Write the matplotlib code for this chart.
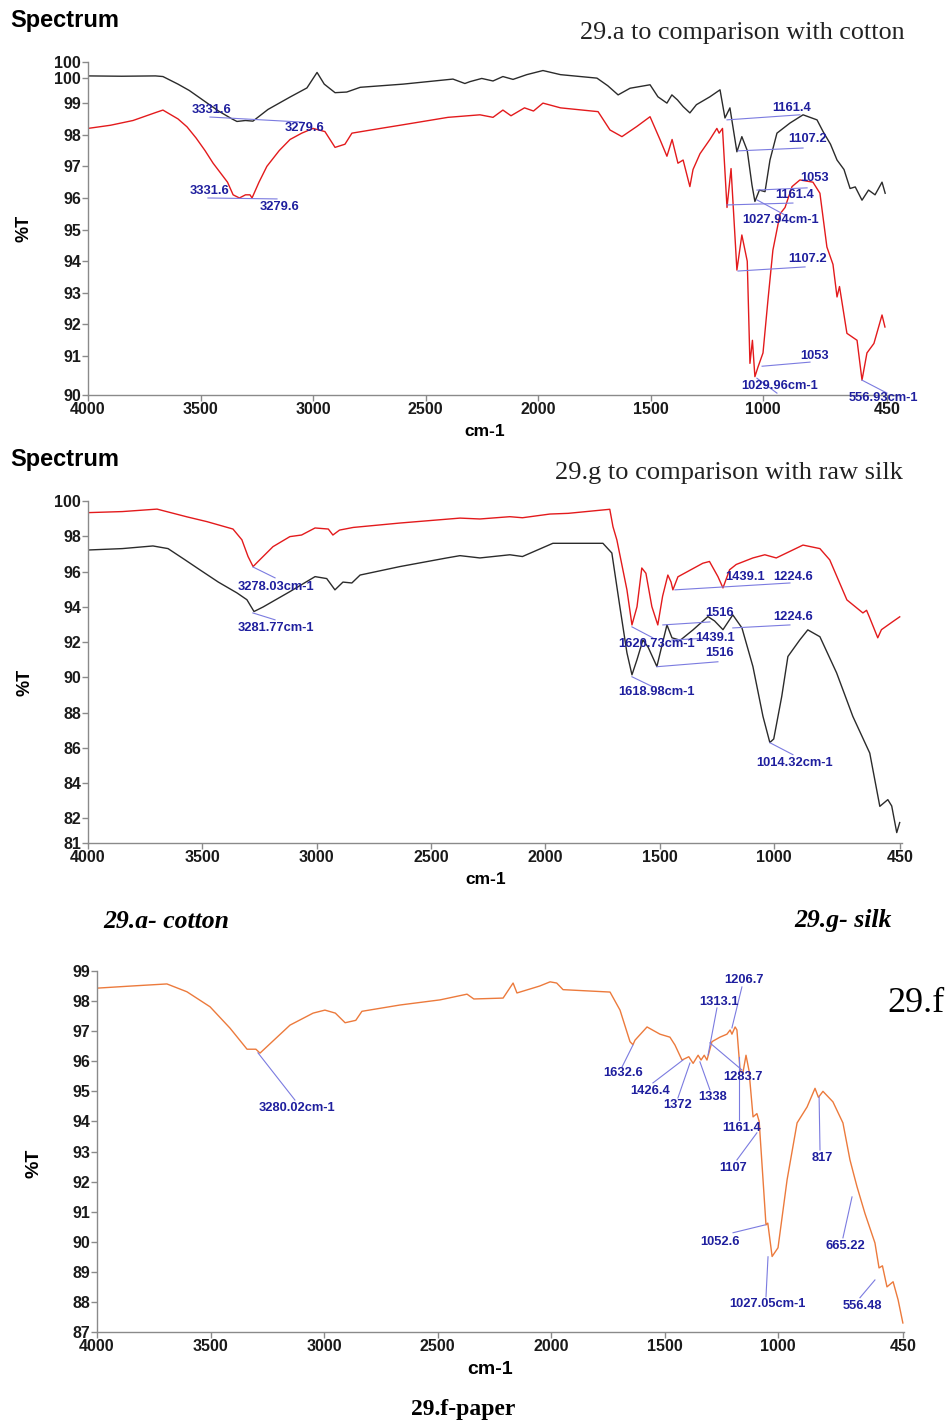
import matplotlib
matplotlib.use("Agg")
import matplotlib.pyplot as plt

# ---------------- 29.a : comparación con algodón ----------------
a_black_wn = [4000, 3850, 3700, 3667, 3600, 3550, 3500, 3460, 3420, 3360, 3338, 3300, 3267, 3200, 3100,
              3027, 2982, 2950, 2902, 2850, 2790, 2600, 2378, 2325, 2302, 2250, 2200, 2156, 2111, 2050,
              1978, 1900, 1738, 1690, 1644, 1591, 1502, 1467, 1427, 1405, 1380, 1355, 1325,
              1296, 1236, 1191, 1169, 1147, 1116, 1094, 1070, 1049, 1036, 1016, 991, 969,
              938, 880, 822, 760, 733, 700, 671, 640, 613, 590, 560, 531, 502, 471, 457]
a_black_t = [99.86, 99.85, 99.86, 99.84, 99.6, 99.4, 99.15, 98.95, 98.75, 98.5, 98.42, 98.45, 98.43, 98.8, 99.2,
             99.48, 99.97, 99.6, 99.33, 99.35, 99.5, 99.6, 99.76, 99.62, 99.68, 99.78, 99.7, 99.84, 99.75, 99.9,
             100.03, 99.9, 99.79, 99.55, 99.26, 99.47, 99.58, 99.2, 99.0, 99.26, 99.1, 98.89, 98.69,
             98.95, 99.2, 99.42, 98.53, 98.85, 97.46, 97.94, 97.5, 96.41, 95.89, 96.25, 96.2, 97.2,
             98.05, 98.37, 98.63, 98.47, 98.1, 97.7, 97.2, 96.9, 96.3, 96.35, 95.93, 96.25, 96.1, 96.5, 96.15]

a_red_wn = [4000, 3900, 3800, 3700, 3667, 3600, 3560, 3520, 3480, 3444, 3380, 3355, 3327, 3300, 3280, 3271,
            3240, 3205, 3150, 3102, 3050, 3000, 2947, 2902, 2858, 2827, 2700, 2613, 2400, 2258, 2200, 2156,
            2120, 2060, 2020, 1978, 1900, 1733, 1680, 1627, 1561, 1502, 1458, 1427, 1404, 1378, 1355,
            1325, 1311, 1280, 1236, 1205, 1195, 1180, 1160, 1142, 1116, 1094, 1070, 1058, 1047,
            1036, 1022, 1000, 978, 956, 924, 902, 871, 836, 778, 747, 716, 689, 671, 660, 627,
            582, 560, 538, 507, 471, 458]
a_red_t = [98.2, 98.3, 98.45, 98.7, 98.78, 98.5, 98.25, 97.9, 97.5, 97.1, 96.5, 96.1, 96.0, 96.1, 96.1, 96.0,
           96.5, 97.0, 97.5, 97.85, 98.05, 98.2, 98.1, 97.6, 97.7, 98.05, 98.2, 98.3, 98.55, 98.63, 98.55, 98.78,
           98.6, 98.85, 98.75, 99.0, 98.85, 98.73, 98.15, 97.94, 98.26, 98.57, 97.85, 97.32, 97.85, 97.1, 97.2,
           96.36, 96.9, 97.4, 97.85, 98.2, 98.05, 98.2, 95.7, 96.93, 93.72, 94.83, 94.0, 90.77, 91.5,
           90.35, 90.66, 91.1, 92.77, 94.35, 95.5, 95.7, 96.36, 96.57, 96.5, 96.15, 94.45, 93.9, 92.87, 93.2, 91.72,
           91.5, 90.24, 91.1, 91.4, 92.3, 91.92]

# ---------------- 29.g : comparación con seda cruda ----------------
g_red_wn = [4000, 3850, 3698, 3567, 3480, 3366, 3327, 3300, 3278, 3256, 3191, 3117, 3066, 3007,
            2949, 2929, 2900, 2840, 2636, 2373, 2286, 2155, 2100, 1980, 1900, 1718, 1704, 1687,
            1643, 1621, 1599, 1578, 1560, 1534, 1508, 1487, 1464, 1450, 1442, 1420, 1311, 1282,
            1245, 1223, 1194, 1165, 1092, 1040, 990, 873, 799, 756, 681, 611, 595, 582, 546, 530, 480, 450]
g_red_t = [99.34, 99.4, 99.54, 99.1, 98.83, 98.41, 97.8, 96.85, 96.28, 96.57, 97.41, 97.98, 98.07, 98.47,
           98.41, 98.07, 98.35, 98.5, 98.75, 99.03, 98.98, 99.11, 99.05, 99.26, 99.3, 99.53, 98.54, 97.79,
           94.96, 92.97, 94.0, 96.2, 95.9, 94.01, 92.97, 94.6, 95.8, 95.4, 94.96, 95.7, 96.47, 96.57,
           95.71, 95.07, 96.1, 96.4, 96.77, 96.95, 96.77, 97.5, 97.3, 96.66, 94.39, 93.65, 93.8, 93.4, 92.24, 92.7, 93.16, 93.43]

g_black_wn = [4000, 3850, 3716, 3650, 3580, 3510, 3430, 3349, 3305, 3274, 3234, 3117, 3007, 2956, 2920, 2885,
              2846, 2810, 2636, 2431, 2373, 2286, 2155, 2100, 1967, 1748, 1709, 1674, 1643, 1621,
              1599, 1573, 1550, 1512, 1490, 1468, 1446, 1410, 1354, 1289, 1260, 1223, 1180, 1140,
              1092, 1048, 1018, 1001, 966, 939, 887, 852, 799, 726, 655, 581, 537, 502, 485, 463, 450]
g_black_t = [97.22, 97.3, 97.45, 97.3, 96.7, 96.09, 95.4, 94.79, 94.4, 93.73, 93.99, 94.86, 95.71, 95.6, 94.96, 95.4,
             95.35, 95.8, 96.28, 96.77, 96.9, 96.77, 96.95, 96.85, 97.6, 97.6, 97.05, 94.01, 91.39, 90.14,
             91.0, 92.12, 91.7, 90.61, 91.8, 92.97, 92.24, 92.1, 92.69, 93.44, 93.2, 92.7, 93.54, 92.8,
             90.61, 87.78, 86.3, 86.5, 88.91, 91.18, 92.12, 92.69, 92.3, 90.25, 87.78, 85.7, 82.68, 83.06, 82.7, 81.19, 81.76]

# ---------------- 29.f : papel ----------------
f_wn = [4000, 3850, 3692, 3604, 3502, 3414, 3339, 3300, 3282, 3238, 3150, 3048, 2996, 2950, 2907,
        2860, 2833, 2665, 2489, 2370, 2340, 2211, 2167, 2150, 2050, 2004, 1975, 1947, 1740, 1696,
        1652, 1639, 1630, 1577, 1520, 1476, 1454, 1423, 1393, 1374, 1352, 1339, 1325, 1313, 1291,
        1256, 1225, 1211, 1203, 1189, 1181, 1167, 1155, 1141, 1128, 1110, 1093, 1083, 1066, 1053,
        1045, 1026, 1000, 960, 916, 872, 837, 822, 802, 758, 714, 683, 665, 652, 617, 573, 555,
        540, 520, 493, 471, 450]
f_t = [98.43, 98.5, 98.57, 98.31, 97.81, 97.1, 96.4, 96.4, 96.27, 96.58, 97.2, 97.6, 97.7, 97.6, 97.28,
       97.36, 97.66, 97.87, 98.04, 98.23, 98.07, 98.1, 98.6, 98.27, 98.5, 98.64, 98.6, 98.38, 98.3, 97.7,
       96.65, 96.55, 96.7, 97.14, 96.9, 96.8, 96.54, 96.04, 96.15, 95.93, 96.2, 96.04, 96.2, 96.04, 96.65,
       96.8, 96.9, 97.04, 96.9, 97.14, 97.04, 95.7, 95.6, 96.2, 95.7, 94.15, 94.26, 94.0, 92.06, 90.56,
       90.62, 89.51, 89.8, 92.06, 93.95, 94.48, 95.1, 94.8, 95.0, 94.65, 93.95, 92.72, 92.2, 91.83, 90.94, 89.96, 89.13,
       89.2, 88.5, 88.67, 88.07, 87.3]

x_ticks = [4000, 3500, 3000, 2500, 2000, 1500, 1000, 450]

# etiquetas de picos: (texto, x_texto, y_texto, linea)
a_peaks = [
    ("3331.6", 3453, 98.78, (3458, 98.56, 3049, 98.40)),
    ("3279.6", 3036, 98.22, None),
    ("3331.6", 3458, 96.22, (3467, 96.0, 3160, 95.97)),
    ("3279.6", 3147, 95.72, None),
    ("1161.4", 871, 98.85, (1160, 98.47, 836, 98.63)),
    ("1107.2", 800, 97.87, (1111, 97.49, 822, 97.58)),
    ("1053", 769, 96.63, (1027, 96.25, 804, 96.32)),
    ("1161.4", 858, 96.09, (1160, 95.78, 867, 95.84)),
    ("1027.94cm-1", 924, 95.30, (1027, 95.94, 902, 95.46)),
    ("1107.2", 800, 94.07, (1111, 93.69, 813, 93.82)),
    ("1053", 769, 91.0, (1004, 90.68, 791, 90.81)),
    ("1029.96cm-1", 924, 90.05, (1027, 90.30, 938, 89.83)),
    ("556.93cm-1", 467, 89.67, (560, 90.24, 449, 89.83)),
]
g_peaks = [
    ("3278.03cm-1", 3178, 95.13, (3279, 96.26, 3182, 95.64)),
    ("3281.77cm-1", 3178, 92.80, (3279, 93.65, 3182, 93.26)),
    ("1439.1", 1127, 95.69, (1433, 94.96, 930, 95.35)),
    ("1224.6", 917, 95.69, None),
    ("1516", 1237, 93.65, (1486, 92.97, 1280, 93.14)),
    ("1224.6", 917, 93.43, (1180, 92.80, 930, 92.97)),
    ("1620.73cm-1", 1512, 91.90, (1621, 92.86, 1530, 92.24)),
    ("1439.1", 1258, 92.24, (1446, 92.12, 1320, 92.2)),
    ("1516", 1237, 91.39, (1512, 90.60, 1245, 90.88)),
    ("1618.98cm-1", 1512, 89.18, (1621, 90.03, 1530, 89.46)),
    ("1014.32cm-1", 909, 85.16, (1018, 86.29, 917, 85.61)),
]
f_peaks = [
    ("3280.02cm-1", 3119, 94.45, (3291, 96.28, 3128, 94.71)),
    ("1632.6", 1683, 95.61, (1639, 96.54, 1687, 95.81)),
    ("1426.4", 1564, 95.01, (1419, 96.04, 1551, 95.28)),
    ("1372", 1441, 94.55, (1388, 95.94, 1441, 94.78)),
    ("1338", 1286, 94.81, (1344, 95.98, 1300, 95.05)),
    ("1313.1", 1260, 97.97, (1308, 96.21, 1269, 97.77)),
    ("1206.7", 1150, 98.70, (1203, 97.11, 1159, 98.47)),
    ("1283.7", 1154, 95.48, (1300, 96.61, 1159, 95.71)),
    ("1161.4", 1159, 93.78, (1172, 96.14, 1172, 94.05)),
    ("1107", 1198, 92.46, (1093, 93.62, 1181, 92.72)),
    ("817", 806, 92.79, (819, 94.81, 815, 93.05)),
    ("1052.6", 1256, 90.0, (1057, 90.56, 1198, 90.30)),
    ("665.22", 705, 89.86, (674, 91.49, 714, 90.13)),
    ("1027.05cm-1", 1048, 87.94, (1044, 89.50, 1053, 88.17)),
    ("556.48", 630, 87.87, (573, 88.73, 639, 88.14)),
]

SANS = "Liberation Sans"
SERIF = "Liberation Serif"
GRIS = "#8a8a8a"
AZUL = "#1f1f9e"
AZUL_LINEA = "#7b7be0"

W, H = 951, 1423
fig = plt.figure(figsize=(W / 100, H / 100), dpi=100)


def eje(rect, xright, ylim, yticks, ylabels, ylab_pos, xlab_pos, xlab_size, ylab_size):
    ax = fig.add_axes([rect[0] / W, 1 - rect[3] / H, (rect[2] - rect[0]) / W, (rect[3] - rect[1]) / H])
    ax.set_xlim(4000, xright)
    ax.set_ylim(*ylim)
    for s in ["top", "right"]:
        ax.spines[s].set_visible(False)
    for s in ["left", "bottom"]:
        ax.spines[s].set_color(GRIS)
        ax.spines[s].set_linewidth(1.0)
    ax.set_xticks(x_ticks)
    ax.set_xticklabels([str(v) for v in x_ticks], fontfamily=SANS, fontweight="bold", fontsize=11.5)
    ax.set_yticks(yticks)
    ax.set_yticklabels(ylabels, fontfamily=SANS, fontweight="bold", fontsize=11.5)
    ax.tick_params(axis="both", colors=GRIS, length=4, width=1, labelcolor="#1a1a1a", pad=1)
    ax.set_ylabel("%T", fontfamily=SANS, fontweight="bold", fontsize=ylab_size)
    ax.yaxis.set_label_coords(*ylab_pos)
    ax.set_xlabel("cm-1", fontfamily=SANS, fontweight="bold", fontsize=xlab_size)
    ax.xaxis.set_label_coords(*xlab_pos)
    return ax


def picos(ax, lista):
    for texto, xt, yt, linea in lista:
        if linea is not None:
            ax.plot([linea[0], linea[2]], [linea[1], linea[3]], color=AZUL_LINEA, lw=0.8, clip_on=False)
        ax.text(xt, yt, texto, color=AZUL, fontfamily=SANS, fontweight="bold", fontsize=9.3,
                ha="center", va="center", clip_on=False)


# panel 29.a
ax1 = eje((88, 62, 898, 395), 400, (89.77, 100.3),
          [89.77, 91, 92, 93, 94, 95, 96, 97, 98, 99, 99.8, 100.3],
          ["90", "91", "92", "93", "94", "95", "96", "97", "98", "99", "100", "100"],
          (-0.068, 0.5), (0.49, -0.088), 12.5, 13)
ax1.plot(a_black_wn, a_black_t, color="#2b2b2b", lw=1.0)
ax1.plot(a_red_wn, a_red_t, color="#e31a1c", lw=1.0)
picos(ax1, a_peaks)

# panel 29.g
ax2 = eje((88, 501, 902, 843), 440, (80.6, 100),
          [80.6, 82, 84, 86, 88, 90, 92, 94, 96, 98, 100],
          ["81", "82", "84", "86", "88", "90", "92", "94", "96", "98", "100"],
          (-0.0675, 0.47), (0.488, -0.085), 12.5, 13)
ax2.plot(g_red_wn, g_red_t, color="#e31a1c", lw=1.0)
ax2.plot(g_black_wn, g_black_t, color="#2b2b2b", lw=1.0)
picos(ax2, g_peaks)

# panel 29.f
ax3 = eje((97, 971, 904, 1332), 445, (87, 99),
          list(range(87, 100)), [str(v) for v in range(87, 100)],
          (-0.068, 0.468), (0.487, -0.08), 14, 14)
ax3.plot(f_wn, f_t, color="#ec7a3c", lw=1.0)
picos(ax3, f_peaks)

# textos sueltos
fig.text(10 / W, 1 - 20 / H, "Spectrum", fontfamily=SANS, fontweight="bold", fontsize=17, va="center")
fig.text(10 / W, 1 - 460 / H, "Spectrum", fontfamily=SANS, fontweight="bold", fontsize=17, va="center")
fig.text(905 / W, 1 - 33 / H, "29.a to comparison with cotton", fontfamily=SERIF, fontsize=18.8,
         ha="right", va="center", color="#222222")
fig.text(903 / W, 1 - 473 / H, "29.g to comparison with raw silk", fontfamily=SERIF, fontsize=19,
         ha="right", va="center", color="#222222")
fig.text(166 / W, 1 - 921 / H, "29.a- cotton", fontfamily=SERIF, fontstyle="italic", fontweight="bold",
         fontsize=18.5, ha="center", va="center")
fig.text(843 / W, 1 - 921 / H, "29.g- silk", fontfamily=SERIF, fontstyle="italic", fontweight="bold",
         fontsize=18.5, ha="center", va="center")
fig.text(916 / W, 1 - 1003 / H, "29.f", fontfamily=SERIF, fontsize=26, ha="center", va="center")
fig.text(463 / W, 1 - 1410 / H, "29.f-paper", fontfamily=SERIF, fontweight="bold", fontsize=17,
         ha="center", va="center")

fig.savefig("out.png", dpi=100)
